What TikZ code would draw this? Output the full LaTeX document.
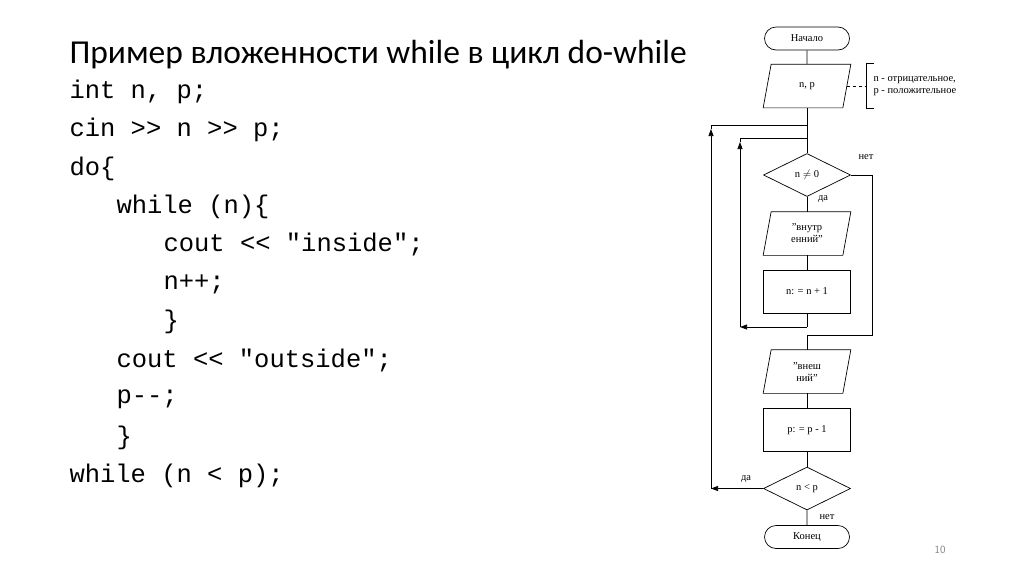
\documentclass[tikz,border=0pt]{standalone}
\usepackage{fontspec}
\setmainfont{Liberation Serif}
\newfontfamily\titlefont{Carlito}
\newfontfamily\codefont{Liberation Mono}
\usetikzlibrary{shapes.geometric,shapes.misc,arrows.meta}
\begin{document}
\begin{tikzpicture}[x=1pt,y=-1pt,
  fc/.style={draw,line width=0.7pt,minimum width=87pt,font=\fontsize{10.5}{12}\selectfont,align=center,inner sep=1pt},
  term/.style={fc,rounded rectangle,minimum height=23pt},
  io/.style={fc,draw=none,minimum width=87pt,minimum height=43pt},
  proc/.style={fc,rectangle,minimum height=43pt},
  dec/.style={fc,diamond,aspect=2,minimum width=87pt,minimum height=43pt,inner sep=0pt},
  ln/.style={line width=0.7pt},
  code/.style={anchor=west,font=\codefont\fontsize{25.5}{28}\selectfont},
  lab/.style={font=\fontsize{10.5}{12}\selectfont}]
\useasboundingbox (0,0) rectangle (1024,574);
\node[anchor=west,font=\titlefont\fontsize{33.5}{36}\selectfont] (title) at (66,55) {Пример вложенности while в цикл do-while};
\node[code] (c1) at (66,92) {int n, p;};
\node[code] (c2) at (66,130) {cin >> n >> p;};
\node[code] (c3) at (66,169) {do\{};
\node[code] (c4) at (113,207) {while (n)\{};
\node[code] (c5) at (160,245) {cout << "inside";};
\node[code] (c6) at (160,284) {n++;};
\node[code] (c7) at (160,322) {\}};
\node[code] (c8) at (113,361) {cout << "outside";};
\node[code] (c9) at (113,399) {p-{}-;};
\node[code] (c10) at (113,438) {\}};
\node[code] (c11) at (66,476) {while (n < p);};
\node[font=\sffamily\fontsize{11}{12}\selectfont,text=gray] (pg) at (940,550) {10};

\node[term] (start) at (807,38.5) {Начало};
\node[io] (inp) at (807,86) {n, p};
\node[dec] (d1) at (807,175) {n $\neq$ 0};
\node[io] (o1) at (807,233.5) {"внутр\\енний"};
\node[proc] (p1) at (807,291.5) {n: = n + 1};
\node[io] (o2) at (807,371.5) {"внеш\\ний"};
\node[proc] (p2) at (807,430) {p: = p - 1};
\node[dec] (d2) at (807,488.5) {n < p};
\node[term] (end) at (807,537) {Конец};
\foreach \n in {inp,o1,o2}
  \draw[ln] ([xshift=8pt]\n.north west) -- (\n.north east) -- ([xshift=-8pt]\n.south east) -- (\n.south west) -- cycle;

\coordinate (j1) at (807,125);
\coordinate (j2) at (807,138);
\coordinate (j3) at (807,327);
\coordinate (j4) at (807,335);
\coordinate (ol) at (711,125);
\coordinate (il) at (740,138);
\draw[ln] (start) -- (inp);
\draw[ln] (inp) -- (d1);
\draw[ln] (d1) -- (o1);
\draw[ln] (o1) -- (p1);
\draw[ln] (p1) -- (j3);
\draw[ln] (j4) -- (o2);
\draw[ln] (o2) -- (p2);
\draw[ln] (p2) -- (d2);
\draw[ln] (d2) -- (end);
\draw[ln,-{Triangle[length=7pt,width=5pt]}] (j3) -- (740,327);
\draw[ln,-{Triangle[length=7pt,width=5pt]}] (740,327) -- (740,142);
\draw[ln] (740,142) -- (il) -- (j2);
\draw[ln] (d1.east) -- (872,175) -- (872,335) -- (j4);
\draw[ln,-{Triangle[length=7pt,width=5pt]}] (d2.west) -- (711,488.5);
\draw[ln,-{Triangle[length=7pt,width=5pt]}] (711,488.5) -- (711,129);
\draw[ln] (711,129) -- (ol) -- (j1);
\node[lab] (l1) at (866,157) {нет};
\node[lab] (l2) at (823,199) {да};
\node[lab] (l3) at (746,479) {да};
\node[lab] (l4) at (827,517) {нет};
\coordinate (cm) at (866,86);
\draw[ln,dashed] ([xshift=-4pt]inp.east) -- (cm);
\draw[ln] (874,63) -- (866,63) -- (866,108) -- (874,108);
\node[lab,anchor=west,align=left] (cmt) at (870,86) {n - отрицательное,\\p - положительное};
\end{tikzpicture}
\end{document}
